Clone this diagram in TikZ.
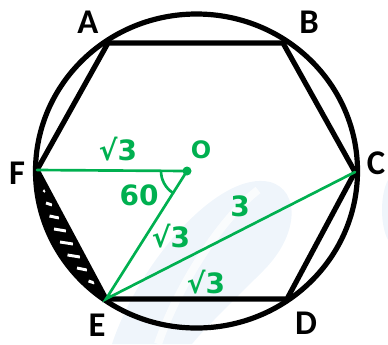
\documentclass[tikz,border=0pt]{standalone}
\usepackage{fontspec}
\setmainfont{Carlito}
\newfontfamily\hand{DejaVu Sans}
\definecolor{grn}{RGB}{0,176,80}
\definecolor{wm}{RGB}{239,245,251}
\begin{document}
\begin{tikzpicture}[x=0.75pt,y=-0.75pt,
  edge/.style={line width=3.9pt, line join=round, line cap=round},
  gline/.style={grn, line width=2pt, line cap=round},
  hatch/.style={white, line width=2.2pt},
  vlabel/.style={font=\bfseries\fontsize{26}{26}\selectfont, inner sep=0pt},
  glabel/.style={text=grn, font=\hand\bfseries\fontsize{21}{21}\selectfont, inner sep=0pt}]
\useasboundingbox (0,0) rectangle (388,344);
% faint watermark
\fill[wm] (112,344) .. controls (140,260) and (220,170) .. (270,182) .. controls (300,190) and (300,235) .. (262,272) .. controls (232,302) and (205,328) .. (192,344) -- cycle;
\draw[white, line width=6pt, opacity=0.7] (158,344) .. controls (180,280) and (225,215) .. (258,190);
\fill[wm] (388,180) .. controls (380,195) and (380,225) .. (388,240) -- cycle;
% points
\coordinate (A) at (108,43);
\coordinate (B) at (283,43);
\coordinate (C) at (355,172);
\coordinate (D) at (287,299);
\coordinate (E) at (106,299);
\coordinate (F) at (37,170);
\coordinate (O) at (187,171);
\coordinate (M) at (196.5,171);
% shaded segment
\fill[black] (E) -- (F) arc[start angle=180, end angle=125, x radius=161, y radius=157] -- cycle;
\draw[hatch] (43.5,190) -- (45.5,191.5);
\draw[hatch] (46,203) -- (52,205);
\draw[hatch] (49.5,216) -- (59,218);
\draw[hatch] (54,229) -- (66,231);
\draw[hatch] (60,242) -- (73,244);
\draw[hatch] (67.5,255) -- (80,257);
\draw[hatch] (77,268) -- (87,270);
\draw[hatch] (88.5,281) -- (94.5,283);
% circle and hexagon
\draw[edge] (M) ellipse[x radius=161, y radius=157];
\draw[edge] (A) -- (B) -- (C) -- (D) -- (E) -- (F) -- cycle;
% green construction
\draw[gline] (F) -- (O) -- (E) -- (C);
\draw[gline] (O) ++(180:26) arc[start angle=180, end angle=122.4, radius=26];
\fill[grn] (O) circle[radius=4.5];
% vertex labels
\node[vlabel] (lA) at (88,22) {A};
\node[vlabel] (lB) at (309,22) {B};
\node[vlabel] (lC) at (376,163) {C};
\node[vlabel] (lD) at (306,323) {D};
\node[vlabel] (lE) at (97,325) {E};
\node[vlabel] (lF) at (17,173) {F};
% green labels
\node[glabel, font=\hand\bfseries\fontsize{18}{18}\selectfont] (lO) at (201,150) {O};
\node[glabel] (l1) at (118,149) {√3};
\node[glabel] (l60) at (139,195) {60};
\node[glabel] (l2) at (171,236) {√3};
\node[glabel] (l3) at (240,206) {3};
\node[glabel] (l4) at (206,282) {√3};
\end{tikzpicture}
\end{document}
